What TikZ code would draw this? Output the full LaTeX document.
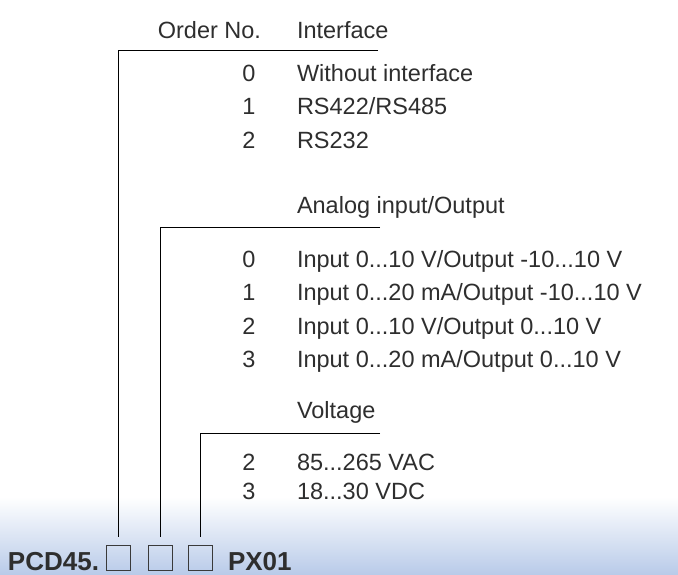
\documentclass[tikz,border=0pt]{standalone}
\usepackage{fontspec}
\setmainfont{Liberation Sans}
\definecolor{txt}{HTML}{2E2E2E}
\definecolor{band}{HTML}{B9CBE9}
\definecolor{rule}{HTML}{3A3A3A}
\tikzset{
  x=1pt, y=-1pt,
  lbl/.style={inner sep=0pt, outer sep=0pt, text=txt, font=\fontsize{23.5}{23.5}\selectfont, anchor=base west},
  num/.style={inner sep=0pt, outer sep=0pt, text=txt, font=\fontsize{23.5}{23.5}\selectfont, anchor=base},
  code/.style={inner sep=0pt, outer sep=0pt, text=txt, font=\fontsize{26}{26}\selectfont\bfseries, anchor=base west},
  digitbox/.style={draw=rule, line width=0.9pt, minimum width=24pt, minimum height=25pt, inner sep=0pt},
  conn/.style={draw=black, line width=0.9pt}
}
\begin{document}
\begin{tikzpicture}
\useasboundingbox (0,0) rectangle (678,574);
% gradient band
\shade[top color=white, bottom color=band] (0,497) rectangle (678,574);

% interface
\node[lbl, anchor=base east] (ordno) at (261,38) {Order No.};
\node[lbl] (hif) at (297,38) {Interface};
\node[num] (n10) at (249,81) {0};
\node[lbl] (t10) at (297,81) {Without interface};
\node[num] (n11) at (249,114.5) {1};
\node[lbl] (t11) at (297,114.5) {RS422/RS485};
\node[num] (n12) at (249,148) {2};
\node[lbl] (t12) at (297,148) {RS232};

% analog
\node[lbl] (hao) at (297,213) {Analog input/Output};
\node[num] (n20) at (249,267) {0};
\node[lbl] (t20) at (297,267) {Input 0...10 V/Output -10...10 V};
\node[num] (n21) at (249,300.5) {1};
\node[lbl] (t21) at (297,300.5) {Input 0...20 mA/Output -10...10 V};
\node[num] (n22) at (249,334) {2};
\node[lbl] (t22) at (297,334) {Input 0...10 V/Output 0...10 V};
\node[num] (n23) at (249,367.5) {3};
\node[lbl] (t23) at (297,367.5) {Input 0...20 mA/Output 0...10 V};

% voltage
\node[lbl] (hvo) at (297,418) {Voltage};
\node[num] (n32) at (249,470) {2};
\node[lbl] (t32) at (297,470) {85...265 VAC};
\node[num] (n33) at (249,499) {3};
\node[lbl] (t33) at (297,499) {18...30 VDC};

% code line
\node[code] (pcd) at (8,570) {PCD45.};
\node[digitbox] (b1) at (118,557.5) {};
\node[digitbox] (b2) at (160,557.5) {};
\node[digitbox] (b3) at (200.5,557.5) {};
\node[code] (px) at (228,570) {PX01};

% connectors
\coordinate (k1) at (118,50);
\coordinate (e1) at (378,50);
\coordinate (k2) at (160,227);
\coordinate (e2) at (380,227);
\coordinate (k3) at (200.5,433);
\coordinate (e3) at (380,433);
\draw[conn] (e1) -- (k1) -- ([yshift=8pt]b1.north);
\draw[conn] (e2) -- (k2) -- ([yshift=8pt]b2.north);
\draw[conn] (e3) -- (k3) -- ([yshift=8pt]b3.north);
\end{tikzpicture}
\end{document}
